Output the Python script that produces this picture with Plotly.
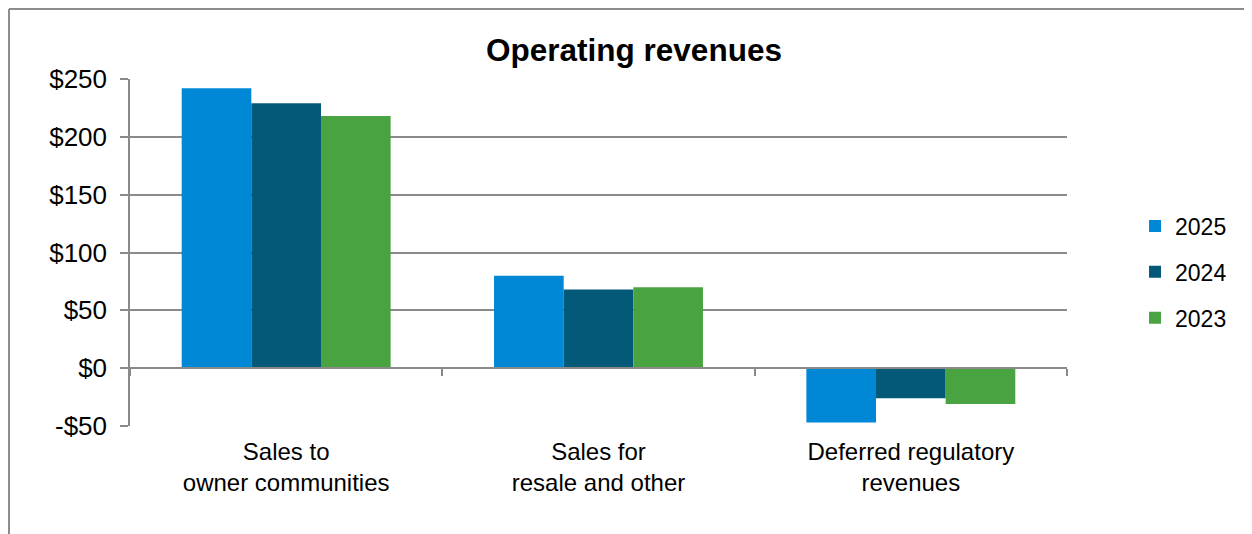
import plotly.graph_objects as go

categories = ["Sales to<br>owner communities", "Sales for<br>resale and other", "Deferred regulatory<br>revenues"]
years = ["2025", "2024", "2023"]
values_2025 = [242, 80, -47]
values_2024 = [229, 68, -26]
values_2023 = [218, 70, -31]
colors = ["#0088D6", "#025A78", "#4AA341"]
tick_vals = [-50, 0, 50, 100, 150, 200, 250]
tick_text = ["-$50", "$0", "$50", "$100", "$150", "$200", "$250"]
y_range = [-50, 250]

series = [values_2025, values_2024, values_2023]

fig = go.Figure()
for i, (yr, vals) in enumerate(zip(years, series)):
    fig.add_trace(go.Bar(
        x=categories, y=vals, name=yr,
        marker=dict(color=colors[i], line=dict(width=0)),
        legendgroup=yr,
    ))

# helper trace for the category axis drawn at zero
fig.add_trace(go.Scatter(x=categories, y=[0, 0, 0], mode="none", xaxis="x2",
                         showlegend=False, hoverinfo="skip"))

FONT = "Liberation Sans, Arial, sans-serif"
GRID = "#8a8a8a"
OFF = 8  # page body margin
W, H = 1252 - OFF, 534 - OFF

L, R, T, B = 130 - OFF, 1067 - OFF, 79 - OFF, 426 - OFF
PW, PH = R - L, B - T

bx0 = (1 - L) / PW
bx1 = (W + 20 - L) / PW
by0 = (B - H - 20) / PH
by1 = (B - 1) / PH
border = dict(color="#8c8c8c", width=2)

fig.update_layout(
    width=W, height=H,
    paper_bgcolor="white", plot_bgcolor="white",
    margin=dict(l=L, r=W - R, t=T, b=H - B),
    barmode="group", bargap=0.331, bargroupgap=0,
    font=dict(family=FONT, color="black"),
    title=dict(text="<b>Operating revenues</b>", x=(634 - OFF) / W, xref="container",
               y=1 - (50 - OFF) / H, yref="container", xanchor="center", yanchor="middle",
               font=dict(size=31.5, family=FONT, color="black")),
    xaxis=dict(showline=False, showgrid=False, ticks="", tickfont=dict(size=24, family=FONT),
               ticklabelstandoff=9),
    xaxis2=dict(overlaying="x", matches="x", anchor="free",
                position=(0 - y_range[0]) / (y_range[1] - y_range[0]),
                showline=True, linecolor=GRID, linewidth=1.5,
                ticks="outside", tickson="boundaries", ticklen=7, tickcolor=GRID, tickwidth=1.5,
                showticklabels=False, showgrid=False),
    yaxis=dict(range=y_range, tickvals=tick_vals, ticktext=tick_text,
               showgrid=True, gridcolor=GRID, gridwidth=1.5,
               zeroline=False, showline=True, linecolor=GRID, linewidth=1.5,
               ticks="outside", ticklen=8, tickcolor=GRID, tickwidth=1.5,
               tickfont=dict(size=26, family=FONT), ticklabelstandoff=8),
    legend=dict(x=1.0726, xanchor="left", y=0.4438, yanchor="middle",
                font=dict(size=23, family=FONT), tracegroupgap=13,
                traceorder="grouped", itemwidth=30, bgcolor="rgba(0,0,0,0)"),
    shapes=[
        dict(type="line", xref="paper", yref="paper", x0=bx0, x1=bx1, y0=by1, y1=by1,
             line=border, layer="below"),
        dict(type="line", xref="paper", yref="paper", x0=bx0, x1=bx0, y0=by0, y1=by1,
             line=border, layer="below"),
    ],
)

fig.write_html("out.html")
